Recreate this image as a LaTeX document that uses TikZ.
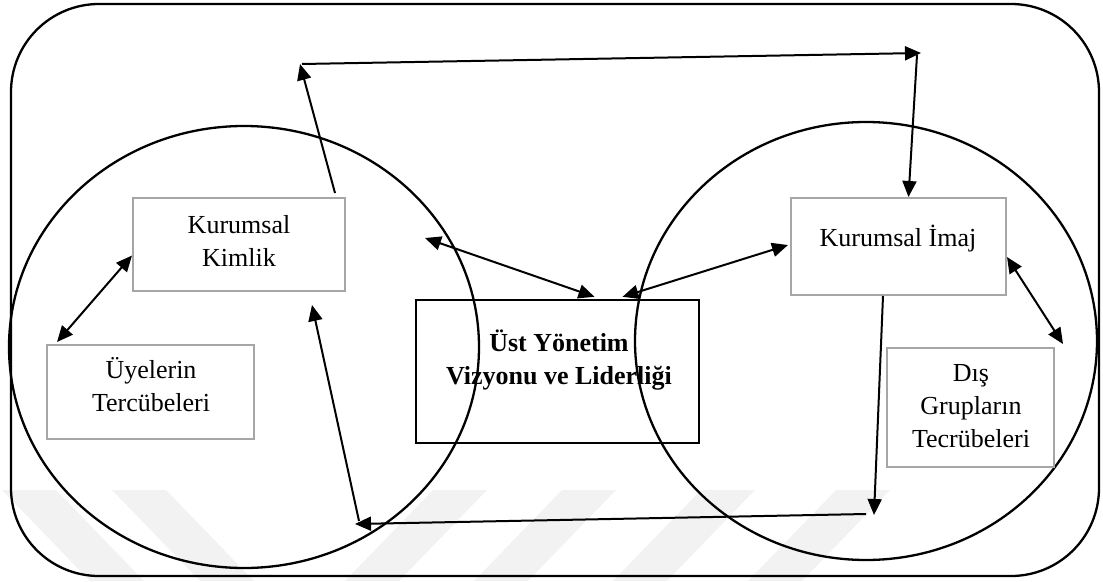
\documentclass[tikz,border=0pt]{standalone}
\usepackage{fontspec}
\setmainfont{Liberation Serif}
\usetikzlibrary{arrows.meta,calc}
\begin{document}
\begin{tikzpicture}[x=1pt,y=-1pt,
  txt/.style={font=\fontsize{26}{33}\selectfont, align=center, inner sep=0pt},
  greybox/.style={draw=black!35, line width=2pt, inner sep=0pt},
  corebox/.style={draw=black, line width=2.4pt, inner sep=0pt},
  ring/.style={draw=black, line width=2.3pt},
  conn/.style={line width=2pt, -{Triangle[length=16pt,width=14pt]}},
  dconn/.style={line width=2pt, {Triangle[length=16pt,width=14pt]}-{Triangle[length=16pt,width=14pt]}},
  mark stripe/.style={fill=black!5, draw=none}]
  \useasboundingbox (0,0) rectangle (1103,581);

  % faint diagonal stripes along the bottom
  \foreach \a in {2,112}
    \fill[mark stripe] (\a,490) -- (\a+54,490) -- (\a+142,581) -- (\a+88,581) -- cycle;
  \foreach \a in {433,562,701,836}
    \fill[mark stripe] (\a,490) -- (\a+54,490) -- (\a-34,581) -- (\a-88,581) -- cycle;

  % outer frame
  \node[draw, line width=2.3pt, rounded corners=88pt, minimum width=1088pt,
        minimum height=572pt, inner sep=0pt] (frame) at (555,290) {};

  % the two overlapping ellipses
  \draw[ring] (244,347) ellipse [x radius=235pt, y radius=221pt];
  \draw[ring] (866,341) ellipse [x radius=231pt, y radius=219pt];

  % boxes
  \node[greybox, minimum width=212pt, minimum height=93pt] (kimlik) at (239,244.5) {};
  \node[greybox, minimum width=207pt, minimum height=94pt] (uye) at (150.5,392) {};
  \node[corebox, minimum width=283pt, minimum height=143pt] (core) at (557.5,371.5) {};
  \node[greybox, minimum width=215pt, minimum height=97pt] (imaj) at (898.5,246.5) {};
  \node[greybox, minimum width=167pt, minimum height=119pt] (dis) at (970.5,407.5) {};

  % texts
  \node[txt] (kimlik-t) at (239,241) {Kurumsal\\Kimlik};
  \node[txt] (uye-t) at (151,385) {Üyelerin\\Tercübeleri};
  \node[txt, font=\fontsize{26}{33}\selectfont\bfseries] (core-t) at (559,360) {Üst Yönetim\\Vizyonu ve Liderliği};
  \node[txt] (imaj-t) at (898,238.5) {Kurumsal İmaj};
  \node[txt] (dis-t) at (971,406.5) {Dış\\Grupların\\Tecrübeleri};

  % free corner points of the loop
  \coordinate (tl) at (300,64);
  \coordinate (tr) at (921,53);
  \coordinate (br) at (874,515);
  \coordinate (bl) at (355,524);
  \coordinate (kl) at (425,238);
  \coordinate (dr) at ($(dis.north east)+(8,-3)$);

  % connectors
  \draw[dconn] ($(kimlik.west)+(0,11)$) -- ($(uye.north west)+(11,-2)$);
  \draw[conn] ($(kimlik.north east)+(-11,-4)$) -- (tl);
  \draw[conn] ($(tl)+(2,0)$) -- (tr);
  \draw[conn] ($(tr)+(-4,2)$) -- ($(imaj.north)+(10,0)$);
  \draw[dconn] (kl) -- ($(core.north)+(37,-2)$);
  \draw[dconn] ($(core.north)+(65,-2)$) -- ($(imaj.west)+(-2,-1.5)$);
  \draw[dconn] ($(imaj.east)+(0,10.5)$) -- (dr);
  \draw[conn] ($(imaj.south)+(-15.5,0)$) -- (br);
  \draw[conn] ($(br)+(-8,-1)$) -- (bl);
  \draw[conn] ($(bl)+(4,-3)$) -- ($(kimlik.south east)+(-34,13)$);
\end{tikzpicture}
\end{document}
